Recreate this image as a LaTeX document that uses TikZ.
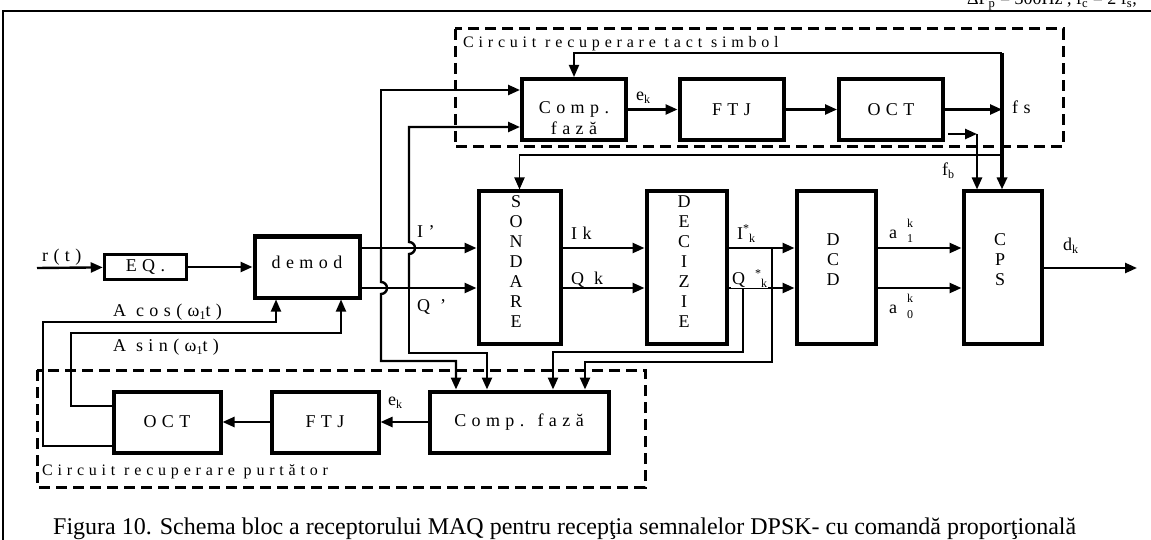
\documentclass[tikz,border=0pt]{standalone}
\usepackage{fontspec}
\setmainfont{Liberation Serif}
\newfontfamily\lsf[LetterSpace=30]{Liberation Serif}
\newfontfamily\lsg[LetterSpace=30]{Liberation Serif}
\usetikzlibrary{arrows.meta}
\newcommand{\subk}[1]{\raisebox{-3pt}{\fontsize{12}{12}\selectfont #1}}
\newcommand{\supk}[1]{\raisebox{7pt}{\fontsize{12}{12}\selectfont #1}}
\begin{document}
\begin{tikzpicture}[x=1pt,y=-1pt,
  blk/.style={draw, line width=4pt, inner sep=0pt, font=\lsf\fontsize{18}{20}\selectfont, align=center},
  lbl/.style={inner sep=0pt, font=\lsf\fontsize{18}{20}\selectfont},
  tip/.style={-{Triangle[length=12pt,width=10pt]}},
  conn/.style={line width=2.4pt, tip},
  thinconn/.style={line width=1.8pt, tip},
  dashbox/.style={line width=3pt, dash pattern=on 11pt off 6pt}]
\useasboundingbox (0,0) rectangle (1151,540);
% frame
\draw[line width=1.5pt] (3,545) -- (3,11) -- (1155,11);
\node[anchor=base east, inner sep=0pt, font=\fontsize{18}{18}\selectfont] (hdr) at (1137,5) {ΔF\textsubscript{p}  = 300Hz , f\textsubscript{c}  = 2  f\textsubscript{s},};
% dashed groups
\draw[dashbox] (455,29) rectangle (1063,147);
\draw[dashbox] (37,370) rectangle (645,487);
\node[anchor=base west, inner sep=0pt, font=\lsg\fontsize{16}{18}\selectfont] (g1) at (463,48) {Circuit recuperare tact simbol};
\node[anchor=base west, inner sep=0pt, font=\lsg\fontsize{16}{18}\selectfont] (g2) at (42,475) {Circuit recuperare purtător};
% coordinates
\coordinate (rI) at (0,248);
\coordinate (rQ) at (0,288);
% blocks
\node[blk, minimum width=104pt, minimum height=61pt] (comp1) at (574,109.5) {};
\node[lbl, align=center, font=\lsf\fontsize{18}{21}\selectfont] (comp1t) at (574,118) {Comp.\\fază};
\node[blk, minimum width=104pt, minimum height=61pt] (ftj1) at (731.5,109.5) {FTJ};
\node[blk, minimum width=104pt, minimum height=61pt] (oct1) at (891,109.5) {OCT};
\node[blk, minimum width=82pt, minimum height=152pt] (sond) at (519.5,267.5) {};
\node[lbl, align=center] (sondt) at (516,262) {S\\O\\N\\D\\A\\R\\E};
\node[blk, minimum width=80pt, minimum height=152pt] (dec) at (686.5,267.5) {};
\node[lbl, align=center] (dect) at (684,262) {D\\E\\C\\I\\Z\\I\\E};
\node[blk, minimum width=79pt, minimum height=152pt] (dcd) at (836,267.5) {};
\node[lbl, align=center] (dcdt) at (833,260) {D\\C\\D};
\node[blk, minimum width=78pt, minimum height=152pt] (cps) at (1002.5,267.5) {};
\node[lbl, align=center] (cpst) at (1000,260) {C\\P\\S};
\node[blk, minimum width=105pt, minimum height=61pt] (demod) at (307,267) {};
\node[lbl] (demodt) at (307,262) {demod};
\node[blk, line width=3.5pt, minimum width=82pt, minimum height=25pt] (eq) at (145.5,267) {EQ.};
\node[blk, minimum width=107pt, minimum height=61pt] (oct2) at (167,422) {OCT};
\node[blk, minimum width=107pt, minimum height=61pt] (ftj2) at (325,422) {FTJ};
\node[blk, minimum width=179pt, minimum height=61pt] (comp2) at (519,422) {Comp. fază};
% input chain
\coordinate (rin) at (37,268);
\draw[conn] (rin) -- (eq);
\draw[conn] (eq) -- (demod);
\node[lbl, anchor=base west] (rt) at (42,261) {r(t)};
% main rows
\draw[conn] (demod.east|-rI) -- (sond.west|-rI);
\draw[conn] (demod.east|-rQ) -- (sond.west|-rQ);
\draw[conn] (sond.east|-rI) -- (dec.west|-rI);
\draw[conn] (sond.east|-rQ) -- (dec.west|-rQ);
\draw[conn] (dec.east|-rI) -- (dcd.west|-rI);
\draw[conn] (dec.east|-rQ) -- (dcd.west|-rQ);
\draw[conn] (dcd.east|-rI) -- (cps.west|-rI);
\draw[conn] (dcd.east|-rQ) -- (cps.west|-rQ);
\coordinate (dout) at (1137,268);
\draw[conn] (cps.east|-dout) -- (dout);
% taps I', Q'
\coordinate (tI) at (381,248);
\coordinate (tQ) at (409,288);
\draw[conn] (tI) -- (381,90) -- (comp1.west|-0,90);
\draw[conn] (tQ) -- (409,254) arc (-90:90:6pt) -- (409,127) -- (comp1.west|-0,127);
\draw[conn] (tI) -- (381,282) arc (90:-90:6pt) -- (381,361) -- (456,361) -- (comp2.north-|456,0);
\draw[conn] (tQ) -- (409,353) -- (487,353) -- (comp2.north-|487,0);
% taps I*k, Q*k
\coordinate (tIs) at (772,248);
\coordinate (tQs) at (743,288);
\draw[conn] (tIs) -- (772,362) -- (585,362) -- (comp2.north-|585,0);
\draw[conn] (tQs) -- (743,352) -- (553,352) -- (comp2.north-|553,0);
% top loop
\draw[conn] (comp1) -- (ftj1);
\draw[conn] (ftj1) -- (oct1);
\coordinate (ck) at (1002,53);
\coordinate (cs) at (1002,155);
\draw[line width=4pt, tip] (ck) -- (cps.north-|ck);
\draw[thinconn] (ck) -| (comp1.north);
\draw[thinconn] (cs) -| (sond.north);
\draw[conn] (oct1.east) -- (oct1.east-|ck);
\coordinate (fb0) at (948,134);
\coordinate (fb1) at (977,134);
\draw[conn] (fb0) -- (fb1);
\draw[conn] (fb1) -- (cps.north-|fb1);
% bottom loop
\draw[conn] (comp2) -- (ftj2);
\draw[conn] (ftj2) -- (oct2);
\draw[thinconn] (oct2.west|-0,446) -- (43,446) -- (43,322) -- (276,322) -- (demod.south-|276,0);
\draw[thinconn] (oct2.west|-0,406) -- (71,406) -- (71,333) -- (341,333) -- (demod.south-|341,0);
% labels
\node[lbl, anchor=base west] (ek1) at (636,101) {e\subk{k}};
\node[lbl, anchor=base west] (ek2) at (388,405) {e\subk{k}};
\node[lbl, anchor=base west] (fs) at (1012,114) {fs};
\node[lbl, anchor=base west] (fb) at (942,176) {f\subk{b}};
\node[lbl, anchor=base west] (ip) at (417,237) {I’};
\node[lbl, anchor=base west] (qp) at (417,311) {Q ’};
\node[lbl, anchor=base west] (ik) at (571,240) {Ik};
\node[lbl, anchor=base west] (qk) at (571,284) {Q k};
\node[lbl, anchor=base west] (isk) at (737,240) {I\supk{*}\subk{k}};
\node[lbl, anchor=base west, fill=white, inner sep=1pt] (qsk) at (731,284) {Q \supk{*}\subk{k}};
\node[lbl, anchor=base west] (a1) at (889,238) {a};
\node[inner sep=0pt, anchor=base west, font=\fontsize{12}{12}\selectfont] (a1k) at (907,227) {k};
\node[inner sep=0pt, anchor=base west, font=\fontsize{12}{12}\selectfont] (a1i) at (907,243) {1};
\node[lbl, anchor=base west] (a0) at (889,313) {a};
\node[inner sep=0pt, anchor=base west, font=\fontsize{12}{12}\selectfont] (a0k) at (907,302) {k};
\node[inner sep=0pt, anchor=base west, font=\fontsize{12}{12}\selectfont] (a0i) at (907,318) {0};
\node[lbl, anchor=base west] (dk) at (1063,251) {d\subk{k}};
\node[lbl, anchor=base west] (acos) at (113,316) {A cos(ω\subk{1}t)};
\node[lbl, anchor=base west] (asin) at (113,351) {A sin(ω\subk{1}t)};
% caption
\node[anchor=base west, inner sep=0pt, font=\fontsize{24}{28}\selectfont] (cap) at (53,534) {Figura 10. Schema bloc a receptorului MAQ pentru recepţia semnalelor DPSK- cu comandă proporţională};
\end{tikzpicture}
\end{document}
